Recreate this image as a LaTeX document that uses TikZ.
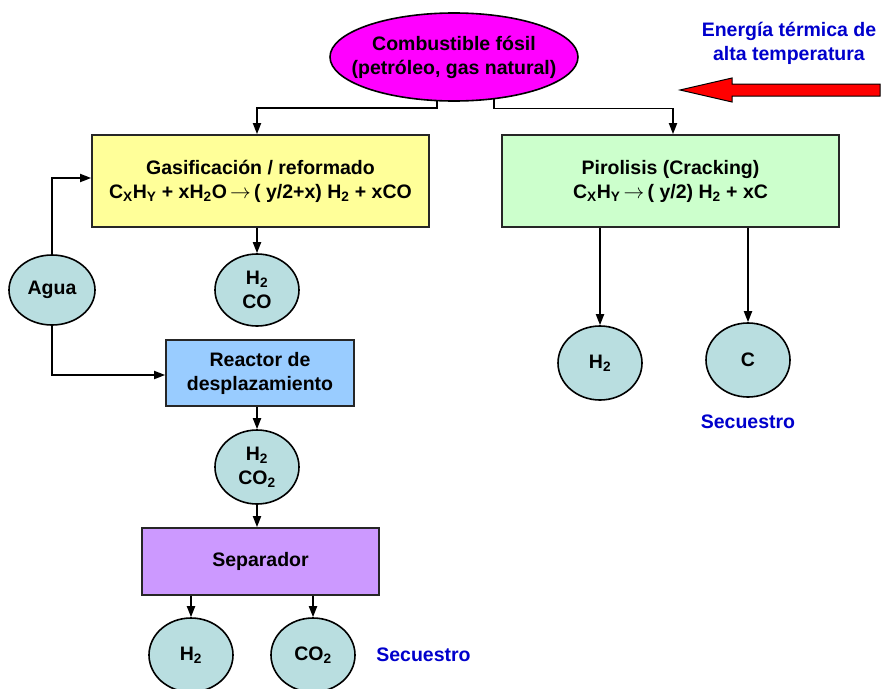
\documentclass[tikz,border=0pt]{standalone}
\usepackage{fontspec}
\setmainfont{Liberation Sans}
\usetikzlibrary{shapes.geometric, arrows.meta, positioning}
\definecolor{fuelmag}{RGB}{255, 0, 255}
\definecolor{gasyellow}{RGB}{255, 255, 153}
\definecolor{pirogreen}{RGB}{204, 255, 204}
\definecolor{shiftblue}{RGB}{153, 204, 255}
\definecolor{seplilac}{RGB}{204, 153, 255}
\definecolor{gasteal}{RGB}{185, 222, 224}
\definecolor{noteblue}{RGB}{0, 0, 204}
\newcommand{\diagfont}{\fontsize{19.5}{24}\selectfont\bfseries}
\newcommand{\sbs}[1]{\textsubscript{#1}}
\newcommand{\yields}{\,$\rightarrow$\,}
\tikzset{
  procbox/.style={draw=black!85, line width=1.7pt, inner sep=0pt, align=center},
  gasnode/.style={ellipse, draw=black, line width=1.6pt, fill=gasteal, minimum width=84pt, minimum height=74pt, inner sep=0pt, align=center},
  flow/.style={line width=1.8pt, -{Triangle[length=11pt, width=8pt]}},
  notetext/.style={text=noteblue}
}

\begin{document}
\begin{tikzpicture}[x=1pt, y=-1pt, font=\diagfont]
  \useasboundingbox (0,0) rectangle (885,688);

  % Feed
  \node[ellipse, draw=black, line width=1.6pt, fill=fuelmag, minimum width=248pt, minimum height=88pt] (fuel) at (454,57) {};
  \node[align=center] (fueltext) at (fuel.center) {Combustible fósil\\(petróleo, gas natural)};

  % Heat input
  \node[notetext, align=center] (heat) at (789,43) {Energía térmica de\\alta temperatura};
  \draw[fill=red, line width=1pt] (880,84) -- (732,84) -- (732,78) -- (680,90) -- (732,102) -- (732,96) -- (880,96) -- cycle;

  % Process boxes
  \node[procbox, fill=gasyellow, minimum width=337pt, minimum height=92pt] (gasif) at (260.5,181)
    {Gasificación / reformado\\C\sbs{X}H\sbs{Y} + xH\sbs{2}O\yields( y/2+x) H\sbs{2} + xCO};
  \node[procbox, fill=pirogreen, minimum width=337pt, minimum height=92pt] (piro) at (670.5,181)
    {Pirolisis (Cracking)\\C\sbs{X}H\sbs{Y}\yields( y/2) H\sbs{2} + xC};
  \node[procbox, fill=shiftblue, minimum width=188pt, minimum height=66pt] (reactor) at (260,373)
    {Reactor de\\desplazamiento};
  \node[procbox, fill=seplilac, minimum width=237pt, minimum height=67pt] (separ) at (260.5,561.5) {Separador};

  % Streams
  \node[gasnode, minimum width=86pt, minimum height=70pt] (agua) at (52,290) {Agua};
  \node[gasnode, minimum height=72pt] (syngas) at (257,290) {H\sbs{2}\\CO};
  \node[gasnode] (shifted) at (257,467) {H\sbs{2}\\CO\sbs{2}};
  \node[gasnode] (hA) at (191,655) {H\sbs{2}};
  \node[gasnode] (coA) at (313,655) {CO\sbs{2}};
  \node[gasnode] (hB) at (600,363) {H\sbs{2}};
  \node[gasnode] (cB) at (748,360) {C};

  \node[notetext, right=17pt of coA] (secA) {Secuestro};
  \node[notetext, below=14pt of cB] (secB) {Secuestro};

  % Connectors
  \draw[flow] (fuel.-111) -- ++(0,7) -| (gasif.north -| syngas.north);
  \draw[flow] (fuel.-47) -- ++(0,9) -| ([xshift=2.5pt]piro.north);
  \draw[flow] (agua.north) |- ([yshift=3pt]gasif.west);
  \draw[flow] (agua.south) |- ([yshift=-2pt]reactor.west);
  \draw[flow] (gasif.south -| syngas.north) -- (syngas.north);
  \draw[flow] (reactor.south -| shifted.north) -- (shifted.north);
  \draw[flow] (shifted.south) -- (separ.north -| shifted.south);
  \draw[flow] (separ.south -| hA.north) -- (hA.north);
  \draw[flow] (separ.south -| coA.north) -- (coA.north);
  \draw[flow] (piro.south -| hB.north) -- (hB.north);
  \draw[flow] (piro.south -| cB.north) -- (cB.north);
\end{tikzpicture}
\end{document}
